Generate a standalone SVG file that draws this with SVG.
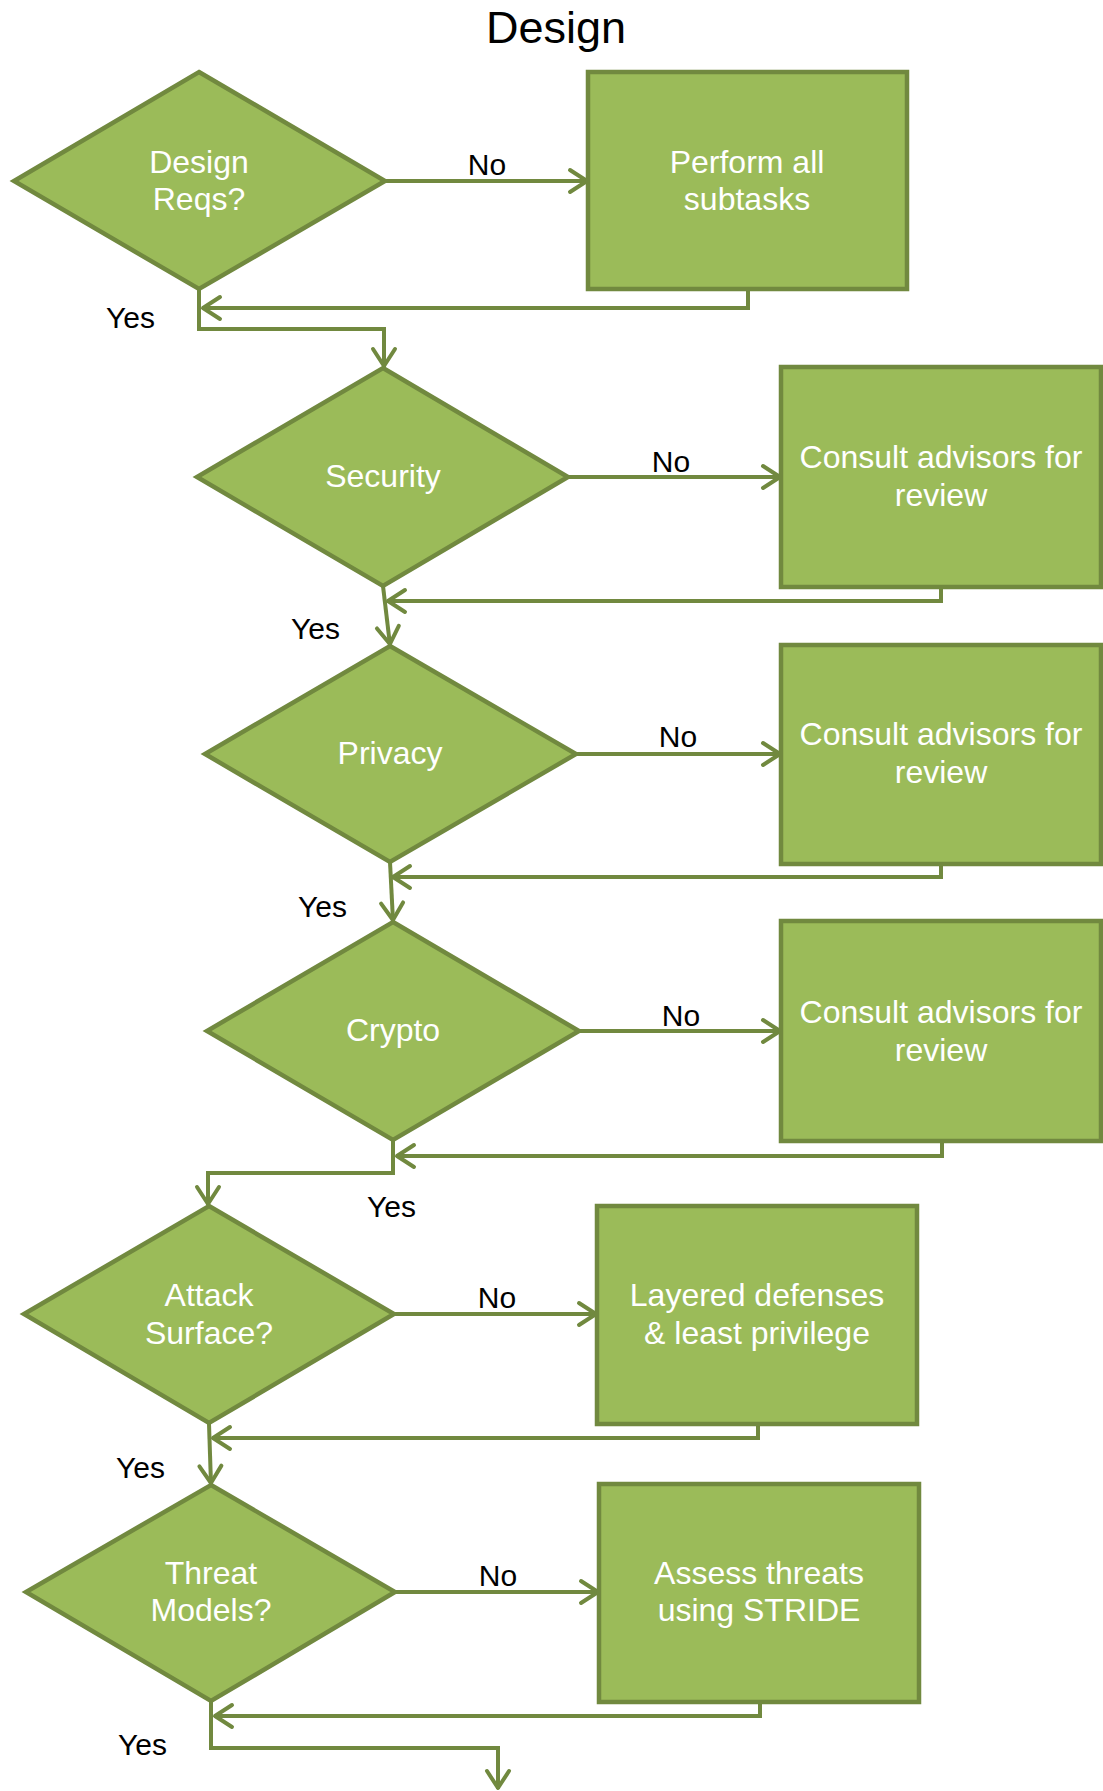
<svg xmlns="http://www.w3.org/2000/svg" width="1103" height="1791" viewBox="0 0 1103 1791">
  <style>
    .shape { fill: #9BBB59; stroke: #71893F; stroke-width: 4.5; stroke-linejoin: miter; }
    .in { font-family: "Liberation Sans", Arial, sans-serif; font-size: 32px; fill: #FFFFFF; text-anchor: middle; }
    .lbl { font-family: "Liberation Sans", Arial, sans-serif; font-size: 30px; fill: #000000; }
    .title { font-family: "Liberation Sans", Arial, sans-serif; font-size: 45px; fill: #000000; text-anchor: middle; }
    .wire { fill: none; stroke: #71893F; stroke-width: 4; stroke-linejoin: miter; }
    .wire.arrow { marker-end: url(#open-arrow); }
  </style>
  <defs>
    <marker id="open-arrow" viewBox="-22 -14 26 28" refX="1" refY="0" markerWidth="26" markerHeight="28" orient="auto" markerUnits="userSpaceOnUse">
      <path d="M-17,-11 L0,0 L-17,11" fill="none" stroke="#71893F" stroke-width="4" stroke-linecap="round" stroke-linejoin="round"/>
    </marker>
  </defs>

  <rect x="0" y="0" width="1103" height="1791" fill="#FFFFFF"/>

  <text class="title" x="556" y="43">Design</text>

  <!-- connectors -->
  <g id="connectors">
    <!-- Design Reqs? -->
    <path class="wire arrow" d="M385,181 L588,181"/>
    <path class="wire arrow" d="M748,289 L748,308 L202,308"/>
    <path class="wire arrow" d="M199,289 L199,329 L384,329 L384,367"/>
    <text class="lbl" x="487" y="175" text-anchor="middle">No</text>
    <text class="lbl" x="106" y="328">Yes</text>

    <!-- Security -->
    <path class="wire arrow" d="M568,477 L781,477"/>
    <path class="wire arrow" d="M941,587 L941,601 L387,601"/>
    <path class="wire arrow" d="M383,586 L390,645"/>
    <text class="lbl" x="671" y="472" text-anchor="middle">No</text>
    <text class="lbl" x="291" y="639">Yes</text>

    <!-- Privacy -->
    <path class="wire arrow" d="M576,754 L781,754"/>
    <path class="wire arrow" d="M941,864 L941,877 L392,877"/>
    <path class="wire arrow" d="M390,862 L393,921"/>
    <text class="lbl" x="678" y="747" text-anchor="middle">No</text>
    <text class="lbl" x="298" y="917">Yes</text>

    <!-- Crypto -->
    <path class="wire arrow" d="M579,1031 L781,1031"/>
    <path class="wire arrow" d="M942,1141 L942,1156 L396,1156"/>
    <path class="wire arrow" d="M393,1140 L393,1173 L208,1173 L208,1205"/>
    <text class="lbl" x="681" y="1026" text-anchor="middle">No</text>
    <text class="lbl" x="367" y="1217">Yes</text>

    <!-- Attack Surface? -->
    <path class="wire arrow" d="M394,1314 L597,1314"/>
    <path class="wire arrow" d="M758,1424 L758,1438 L212,1438"/>
    <path class="wire arrow" d="M209,1424 L211,1484"/>
    <text class="lbl" x="497" y="1308" text-anchor="middle">No</text>
    <text class="lbl" x="116" y="1478">Yes</text>

    <!-- Threat Models? -->
    <path class="wire arrow" d="M395,1592 L599,1592"/>
    <path class="wire arrow" d="M760,1702 L760,1716 L214,1716"/>
    <path class="wire arrow" d="M211,1701 L211,1748 L498,1748 L498,1789"/>
    <text class="lbl" x="498" y="1586" text-anchor="middle">No</text>
    <text class="lbl" x="118" y="1755">Yes</text>
  </g>

  <!-- decisions -->
  <g id="design-reqs">
    <polygon class="shape" points="199,72 385,181 199,289 14,181"/>
    <text class="in" x="199" y="173">Design</text>
    <text class="in" x="199" y="210">Reqs?</text>
  </g>
  <g id="security">
    <polygon class="shape" points="383,368 568,477 383,586 197,477"/>
    <text class="in" x="383" y="487">Security</text>
  </g>
  <g id="privacy">
    <polygon class="shape" points="390,646 576,754 390,862 205,754"/>
    <text class="in" x="390" y="764">Privacy</text>
  </g>
  <g id="crypto">
    <polygon class="shape" points="393,922 579,1031 393,1140 207,1031"/>
    <text class="in" x="393" y="1041">Crypto</text>
  </g>
  <g id="attack-surface">
    <polygon class="shape" points="209,1206 394,1314 209,1423 24,1314"/>
    <text class="in" x="209" y="1306">Attack</text>
    <text class="in" x="209" y="1344">Surface?</text>
  </g>
  <g id="threat-models">
    <polygon class="shape" points="211,1485 395,1592 211,1701 26,1592"/>
    <text class="in" x="211" y="1584">Threat</text>
    <text class="in" x="211" y="1621">Models?</text>
  </g>

  <!-- actions -->
  <g id="perform-subtasks">
    <rect class="shape" x="588" y="72" width="319" height="217"/>
    <text class="in" x="747" y="173">Perform all</text>
    <text class="in" x="747" y="210">subtasks</text>
  </g>
  <g id="consult-security">
    <rect class="shape" x="781" y="367" width="320" height="220"/>
    <text class="in" x="941" y="468">Consult advisors for</text>
    <text class="in" x="941" y="506">review</text>
  </g>
  <g id="consult-privacy">
    <rect class="shape" x="781" y="645" width="320" height="219"/>
    <text class="in" x="941" y="745">Consult advisors for</text>
    <text class="in" x="941" y="783">review</text>
  </g>
  <g id="consult-crypto">
    <rect class="shape" x="781" y="921" width="320" height="220"/>
    <text class="in" x="941" y="1023">Consult advisors for</text>
    <text class="in" x="941" y="1061">review</text>
  </g>
  <g id="layered-defenses">
    <rect class="shape" x="597" y="1206" width="320" height="218"/>
    <text class="in" x="757" y="1306">Layered defenses</text>
    <text class="in" x="757" y="1344">&amp; least privilege</text>
  </g>
  <g id="assess-threats">
    <rect class="shape" x="599" y="1484" width="320" height="218"/>
    <text class="in" x="759" y="1584">Assess threats</text>
    <text class="in" x="759" y="1621">using STRIDE</text>
  </g>
</svg>
